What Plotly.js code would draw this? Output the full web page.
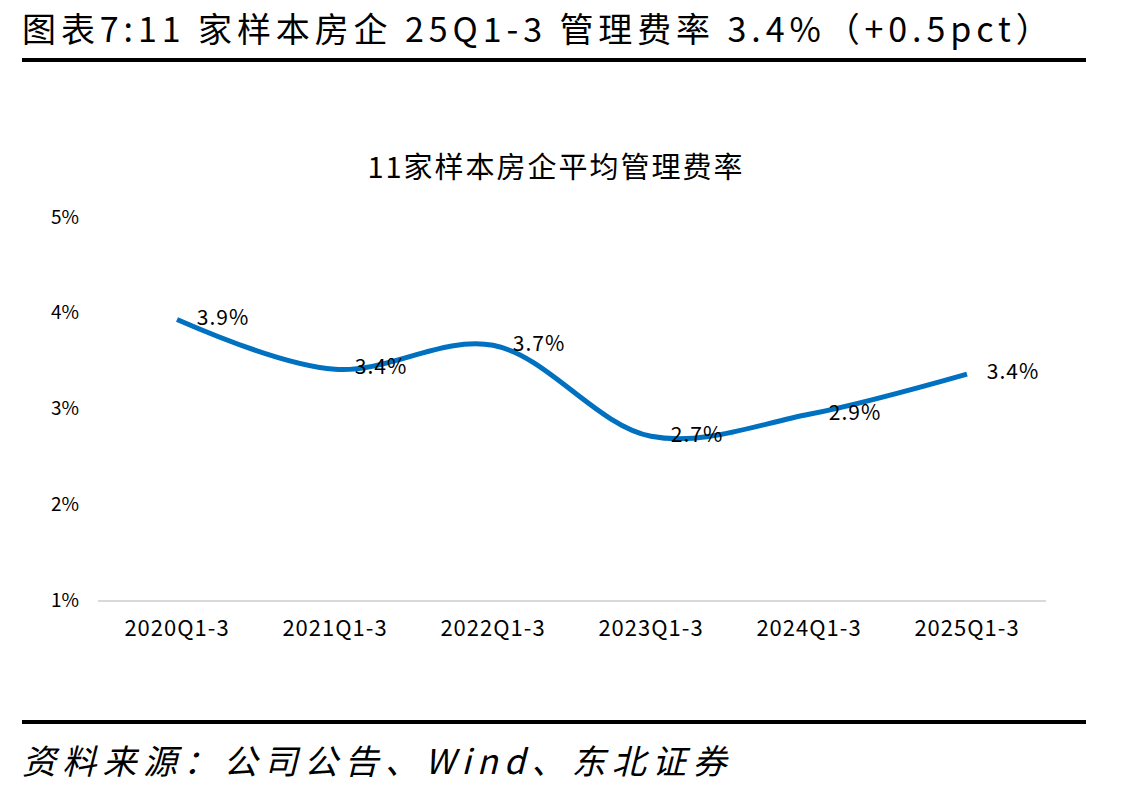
<!DOCTYPE html>
<html>
<head>
<meta charset="utf-8">
<script src="https://cdn.plot.ly/plotly-3.0.1.min.js"></script>
<style>
  html, body { margin: 0; padding: 0; background: #fff; }
  #chart { width: 1130px; height: 794px; }
</style>
</head>
<body>
<div id="chart"></div>
<script>
// 11家样本房企平均管理费率（%）
const periods = ['2020Q1-3', '2021Q1-3', '2022Q1-3', '2023Q1-3', '2024Q1-3', '2025Q1-3'];
const mgmtRate = [3.93, 3.41, 3.66, 2.71, 2.94, 3.36];
const yTicks = [1, 2, 3, 4, 5];
const yTickText = ['1%', '2%', '3%', '4%', '5%'];

const headingText = '图表7:11 家样本房企 25Q1-3 管理费率 3.4%（+0.5pct）';
const chartTitle = '11家样本房企平均管理费率';
const sourceText = '资料来源：公司公告、Wind、东北证券';

const cjk = '"Noto Sans CJK SC", "Noto Sans", sans-serif';

// plot area in pixels: x 98..1046, y 217..600
const L = 98, R = 1046, T = 217, B = 600;
const px = x => (x - L) / (R - L);
const py = y => (B - y) / (B - T);

const trace = {
  type: 'scatter',
  mode: 'lines+markers+text',
  x: periods,
  y: mgmtRate,
  line: { color: '#0070C0', width: 5, shape: 'spline', smoothing: 1 },
  // invisible markers only push the value labels off the line
  marker: { size: 30, color: 'rgba(0,0,0,0)', line: { width: 0 } },
  text: mgmtRate.map(v => v.toFixed(1) + '%'),
  textposition: 'middle right',
  textfont: { family: cjk, size: 21, color: '#000' },
  hoverinfo: 'skip',
  cliponaxis: false
};

const layout = {
  width: 1130,
  height: 794,
  paper_bgcolor: '#fff',
  plot_bgcolor: '#fff',
  margin: { l: L, r: 1130 - R, t: T, b: 794 - B, pad: 0 },
  showlegend: false,
  title: {
    text: chartTitle,
    font: { family: cjk, size: 29, color: '#000' },
    x: 556 / 1130, xanchor: 'center',
    y: 1 - 168 / 794, yanchor: 'middle',
    xref: 'container', yref: 'container'
  },
  xaxis: {
    type: 'category',
    range: [-0.5, periods.length - 0.5],
    showgrid: false,
    zeroline: false,
    showline: true,
    linecolor: '#d9d9d9',
    linewidth: 1.5,
    ticks: '',
    ticklabelstandoff: 8,
    tickfont: { family: cjk, size: 22, color: '#000' },
    fixedrange: true
  },
  yaxis: {
    range: [1, 5],
    tickvals: yTicks,
    ticktext: yTickText,
    showgrid: false,
    zeroline: false,
    showline: false,
    ticks: '',
    ticklabelstandoff: 18,
    tickfont: { family: cjk, size: 19, color: '#000' },
    fixedrange: true
  },
  shapes: [
    { type: 'line', xref: 'paper', yref: 'paper', x0: px(22), x1: px(1086), y0: py(60), y1: py(60),
      line: { color: '#000', width: 4 } },
    { type: 'line', xref: 'paper', yref: 'paper', x0: px(22), x1: px(1086), y0: py(722), y1: py(722),
      line: { color: '#000', width: 4 } }
  ],
  annotations: [
    { text: headingText, xref: 'paper', yref: 'paper', x: px(20), y: py(27),
      xanchor: 'left', yanchor: 'middle', align: 'left', showarrow: false,
      font: { family: cjk, size: 34, color: '#000' } },
    { text: '<i>' + sourceText + '</i>', xref: 'paper', yref: 'paper', x: px(20), y: py(759),
      xanchor: 'left', yanchor: 'middle', align: 'left', showarrow: false,
      font: { family: cjk, size: 34, color: '#000' } }
  ]
};

function spread(selector, px) {
  document.querySelectorAll('#chart ' + selector).forEach(n => {
    n.style.letterSpacing = px + 'px';
  });
}

Plotly.newPlot('chart', [trace], layout, { displayModeBar: false, staticPlot: true }).then(() => {
  const ann = document.querySelectorAll('#chart .annotation-text');
  if (ann[0]) ann[0].style.letterSpacing = '4.9px';
  if (ann[1]) ann[1].style.letterSpacing = '6.3px';
  spread('.gtitle', 2);
  spread('.xtick text', 1);
  spread('.textpoint text', 1);
});
</script>
</body>
</html>
